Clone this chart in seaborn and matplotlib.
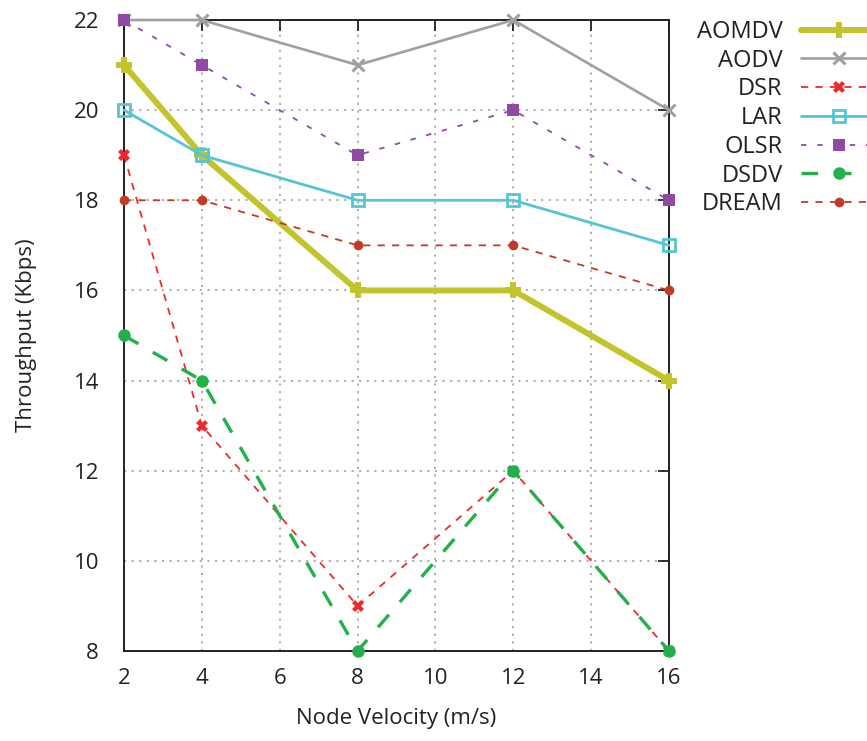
import matplotlib
matplotlib.use("Agg")
import matplotlib.pyplot as plt
import seaborn as sns
import pandas as pd

# Node velocity (m/s) and throughput (Kbps) per routing protocol
velocity = [2, 4, 8, 12, 16]
aomdv = [21, 19, 16, 16, 14]
aodv = [22, 22, 21, 22, 20]
dsr = [19, 13, 9, 12, 8]
lar = [20, 19, 18, 18, 17]
olsr = [22, 21, 19, 20, 18]
dsdv = [15, 14, 8, 12, 8]
dream = [18, 18, 17, 17, 16]

protocols = ["AOMDV", "AODV", "DSR", "LAR", "OLSR", "DSDV", "DREAM"]
series = [aomdv, aodv, dsr, lar, olsr, dsdv, dream]

x_ticks = [2, 4, 6, 8, 10, 12, 14, 16]
y_ticks = [8, 10, 12, 14, 16, 18, 20, 22]

styles = {
    "AOMDV": dict(color="#c3c32c", lw=4.3, ls="-", marker="P", ms=11, mew=0),
    "AODV": dict(color="#a0a0a0", lw=1.9, ls="-", marker="x", ms=9, mew=2.2),
    "DSR": dict(color="#f0282a", lw=1.3, ls=(0, (4, 4)), marker="X", ms=9, mew=0),
    "LAR": dict(color="#55c5d6", lw=2.0, ls="-", marker="s", ms=8, mew=2,
                mfc="none"),
    "OLSR": dict(color="#8f4aa3", lw=1.3, ls=(0, (3, 6)), marker="s", ms=9, mew=0),
    "DSDV": dict(color="#22b04a", lw=2.4, ls=(0, (5, 5)), marker="o", ms=9, mew=0),
    "DREAM": dict(color="#c23a28", lw=1.3, ls=(0, (4, 4)), marker="o", ms=7, mew=0),
}

sns.set_style("white")
plt.rcParams["font.family"] = ["Open Sans", "DejaVu Sans"]

fig = plt.figure(figsize=(8.67, 7.41), dpi=100)
ax = fig.add_axes([124 / 867, 1 - 651 / 741, (669 - 124) / 867, (651 - 20) / 741])

for name, vals in zip(protocols, series):
    df = pd.DataFrame({"Node Velocity (m/s)": velocity, "Throughput (Kbps)": vals})
    st = dict(styles[name])
    color = st.pop("color")
    lw = st.pop("lw")
    ls = st.pop("ls")
    sns.lineplot(data=df, x="Node Velocity (m/s)", y="Throughput (Kbps)", ax=ax,
                 color=color, linewidth=lw, linestyle=ls, label=name,
                 markeredgecolor=color, clip_on=False, zorder=3, **st)

ax.set_xlim(2, 16)
ax.set_ylim(8, 22)
ax.set_xticks(x_ticks)
ax.set_yticks(y_ticks)
ax.tick_params(axis="both", which="major", direction="in", length=8, width=1.3,
               labelsize=16, colors="#222222", top=True, right=True,
               labeltop=False, labelright=False)
ax.tick_params(axis="x", pad=12)
ax.tick_params(axis="y", pad=18)
for sp in ax.spines.values():
    sp.set_color("#222222")
    sp.set_linewidth(1.4)
    sp.set_zorder(2.5)
ax.grid(True, color="#a8a8a8", linestyle=(0, (1.2, 3)), linewidth=1.3)
ax.set_axisbelow(True)

ax.set_xlabel("Node Velocity (m/s)", fontsize=16, color="#222222", labelpad=14)
ax.set_ylabel("Throughput (Kbps)", fontsize=16, color="#222222", labelpad=26)

leg = ax.legend(loc="upper right", bbox_to_anchor=(877 / 867, 1 - 20 / 741),
                bbox_transform=fig.transFigure, frameon=False, markerfirst=False,
                fontsize=17, handlelength=3.2, handletextpad=0.8,
                labelspacing=0.2, borderpad=0, borderaxespad=0)
for t in leg.get_texts():
    t.set_color("#222222")

fig.savefig("out.png", dpi=100)
